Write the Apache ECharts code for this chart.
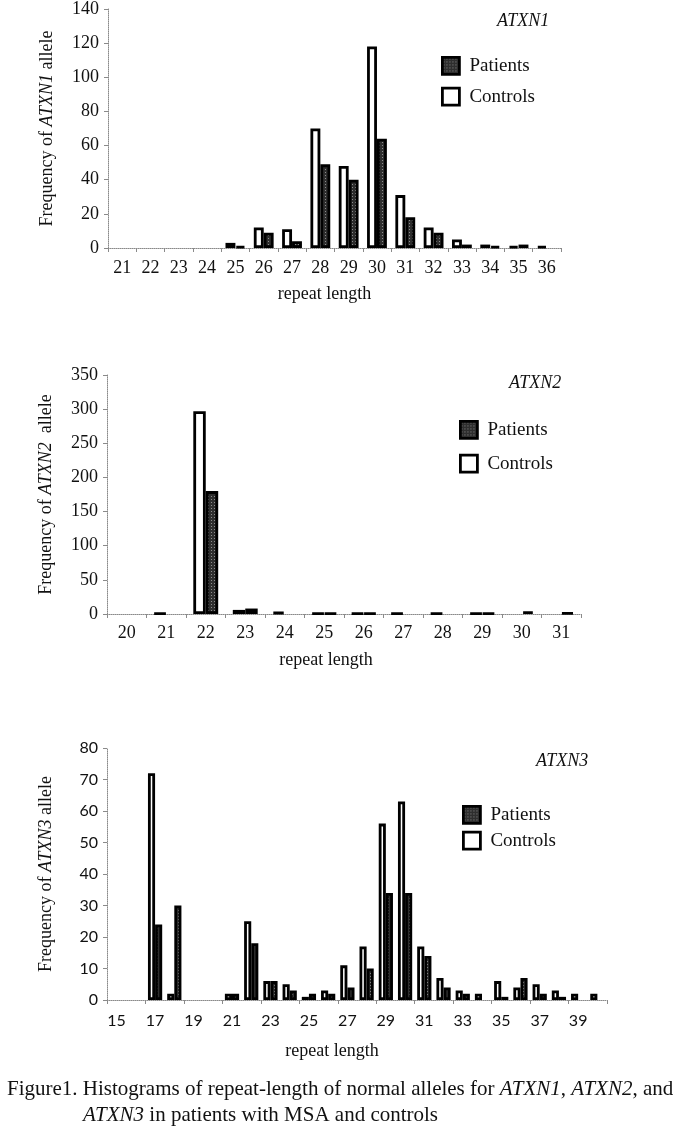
<!DOCTYPE html>
<html>
<head>
<meta charset="utf-8">
<script src="https://cdn.jsdelivr.net/npm/echarts@6/dist/echarts.min.js"></script>
<style>
html,body{margin:0;padding:0;background:#fff;}
#chart{width:685px;height:1138px;}
</style>
</head>
<body>
<div id="chart"></div>
<script>
// ---- Data ----
const ATXN1_LENGTHS = ['21','22','23','24','25','26','27','28','29','30','31','32','33','34','35','36'];
const ATXN1_CONTROLS = [0,0,0,0,3,12,11,70,48,118,31,12,5,2,1,1];
const ATXN1_PATIENTS = [0,0,0,0,1,9,4,49,40,64,18,9,2,1,2,0];

const ATXN2_LENGTHS = ['20','21','22','23','24','25','26','27','28','29','30','31'];
const ATXN2_CONTROLS = [0,1,297,6,3,1,1,1,1,1,0,0];
const ATXN2_PATIENTS = [0,0,180,8,0,1,1,0,0,1,4,2];

const ATXN3_LENGTHS = ['15','16','17','18','19','20','21','22','23','24','25','26','27','28','29','30','31','32','33','34','35','36','37','38','39','40'];
const ATXN3_CONTROLS = [0,0,72,2,0,0,2,25,6,5,1,3,11,17,56,63,17,7,3,2,6,4,5,3,2,2];
const ATXN3_PATIENTS = [0,0,24,30,0,0,2,18,6,3,2,2,4,10,34,34,14,4,2,0,1,7,2,1,0,0];

const Y_TICKS = [{max:140, interval:20},{max:350, interval:50},{max:80, interval:10}];
const GENES = ['ATXN1','ATXN2','ATXN3'];

// ---- Styles ----
const SERIF = 'Liberation Serif';
const SANS = 'Lato';

function makePattern(){
  const c = document.createElement('canvas');
  c.width = 3; c.height = 3;
  const g = c.getContext('2d');
  g.fillStyle = '#2e2e2e'; g.fillRect(0,0,3,3);
  g.fillStyle = '#8c8c8c'; g.fillRect(1,1,1,1);
  return c;
}
const patientFill = {image: makePattern(), repeat: 'repeat'};

const gridDefs = [
  {left:108, right:124, top:7, height:241},
  {left:107, right:104, top:375, height:239},
  {left:107, right:78, top:748, height:252}
];
const catsList = [ATXN1_LENGTHS, ATXN2_LENGTHS, ATXN3_LENGTHS];
const ctrlList = [ATXN1_CONTROLS, ATXN2_CONTROLS, ATXN3_CONTROLS];
const patList = [ATXN1_PATIENTS, ATXN2_PATIENTS, ATXN3_PATIENTS];
const gapList = ['30%','37%','26%'];
const tickFont = [SERIF, SERIF, SANS];
const yNames = ['Frequency of {i|ATXN1} allele','Frequency of {i|ATXN2}  allele','Frequency of {i|ATXN3} allele'];
const xNameGap = [37, 37, 42];
const xNamePad = [[0,20,0,0],[0,36,0,0],[0,50,0,0]];
const xLabelMargin = [11, 10, 13];

const dotted = {color:'#8a8a8a', type:'dotted', width:1};

const xAxes = [], yAxes = [], series = [];
for (let i = 0; i < 3; i++) {
  xAxes.push({
    type:'category', gridIndex:i, data:catsList[i],
    axisLine:{show:true, lineStyle:dotted},
    axisTick:{show:true, length:4, lineStyle:{color:'#8a8a8a'}},
    axisLabel:{color:'#111', fontFamily:tickFont[i], fontSize: i===2?16:18, margin:xLabelMargin[i], interval: i===2?1:0},
    name:'repeat length', nameLocation:'middle', nameGap:xNameGap[i],
    nameTextStyle:{color:'#111', fontFamily:SERIF, fontSize:18, padding:xNamePad[i]}
  });
  yAxes.push({
    type:'value', gridIndex:i, min:0, max:Y_TICKS[i].max, interval:Y_TICKS[i].interval,
    splitLine:{show:false},
    axisLine:{show:true, lineStyle:dotted},
    axisTick:{show:true, length:4, lineStyle:{color:'#8a8a8a'}},
    axisLabel:{color:'#111', fontFamily:tickFont[i], fontSize: i===2?16:18, margin:9},
    name:yNames[i], nameLocation:'middle', nameRotate:90, nameGap: 52,
    nameTextStyle:{color:'#111', fontFamily:SERIF, fontSize:18,
      rich:{i:{fontStyle:'italic', fontFamily:SERIF, fontSize:18, color:'#111'}}}
  });
  const toBar = v => (v === 0 ? '-' : v);
  series.push({
    name:'Controls', type:'bar', xAxisIndex:i, yAxisIndex:i,
    data: ctrlList[i].map(toBar),
    barGap:'0%', barCategoryGap:gapList[i],
    itemStyle:{color:'#fff', borderColor:'#000', borderWidth:2.8},
    emphasis:{disabled:true}
  });
  series.push({
    name:'Patients', type:'bar', xAxisIndex:i, yAxisIndex:i,
    data: patList[i].map(toBar),
    barGap:'0%', barCategoryGap:gapList[i],
    itemStyle:{color:patientFill, borderColor:'#000', borderWidth:2.8},
    emphasis:{disabled:true}
  });
}

const legendPos = [
  {left:441, top:56, itemGap:11},
  {left:459, top:420, itemGap:14},
  {left:462, top:805, itemGap:6}
];
const legends = legendPos.map(p => ({
  orient:'vertical', left:p.left, top:p.top, itemGap:p.itemGap, padding:0,
  itemWidth:17, itemHeight:17, icon:'rect',
  data:['Patients','Controls'],
  itemStyle:{borderColor:'#000', borderWidth:2.8},
  textStyle:{color:'#111', fontFamily:SERIF, fontSize:19, padding:[0,0,0,5]},
  selectedMode:false
}));

const geneTitlePos = [{left:497, top:12},{left:509, top:374},{left:536, top:752}];
const titles = GENES.map((g, i) => ({
  text:g, left:geneTitlePos[i].left, top:geneTitlePos[i].top, padding:0,
  textStyle:{fontFamily:SERIF, fontStyle:'italic', fontWeight:'normal', fontSize:18, color:'#111'}
}));

const option = {
  animation:false,
  backgroundColor:'#fff',
  title: titles,
  legend: legends,
  grid: gridDefs,
  xAxis: xAxes,
  yAxis: yAxes,
  series: series,
  graphic: [
    {type:'text', left:7, top:1079, style:{
      text:'Figure1. Histograms of repeat-length of normal alleles for {i|ATXN1}, {i|ATXN2}, and',
      font:'21px "Liberation Serif"', fill:'#111',
      rich:{i:{fontStyle:'italic', fontFamily:SERIF, fontSize:21, fill:'#111'}}
    }},
    {type:'text', left:83, top:1105, style:{
      text:'{i|ATXN3} in patients with MSA and controls',
      font:'21px "Liberation Serif"', fill:'#111',
      rich:{i:{fontStyle:'italic', fontFamily:SERIF, fontSize:21, fill:'#111'}}
    }}
  ]
};

const chart = echarts.init(document.getElementById('chart'));
chart.setOption(option);
</script>
</body>
</html>
